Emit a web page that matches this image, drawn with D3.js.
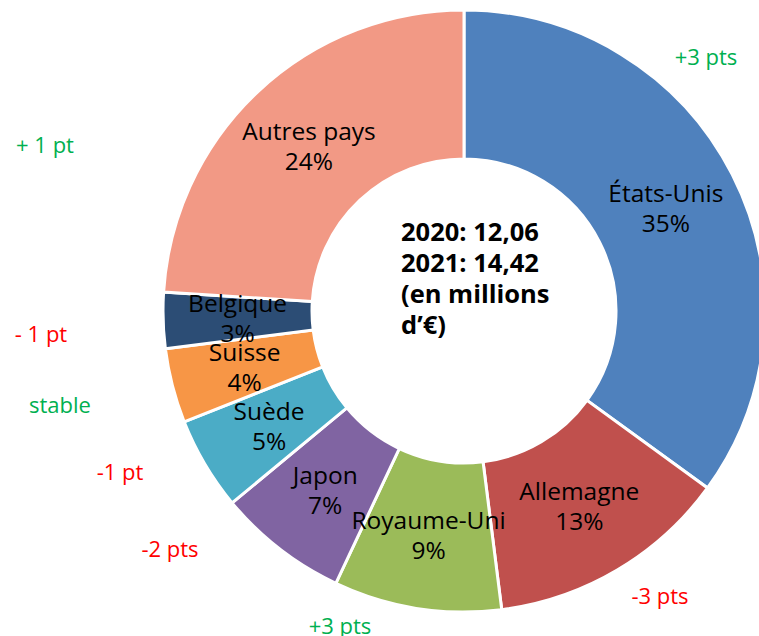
<!DOCTYPE html>
<html>
<head>
<meta charset="utf-8">
<script src="https://cdn.jsdelivr.net/npm/d3@7"></script>
<style>
  body { margin: 0; background: #fff; }
  svg { display: block; }
  .lbl { font-family: "Open Sans", sans-serif; font-size: 24.5px; fill: #000; }
  .note { font-family: "Open Sans", sans-serif; font-size: 22px; }
  .total { font-family: "Open Sans", sans-serif; font-size: 25.5px; font-weight: 700; fill: #000; }
</style>
</head>
<body>
<div id="chart"></div>
<script>
// parts des pays, sens horaire depuis midi
var countries = ["États-Unis", "Allemagne", "Royaume-Uni", "Japon", "Suède", "Suisse", "Belgique", "Autres pays"];
var shares = [35, 13, 9, 7, 5, 4, 3, 24];
var changes = ["+3 pts", "-3 pts", "+3 pts", "-2 pts", "-1 pt", "stable", "- 1 pt", "+ 1 pt"];
var totals = ["2020: 12,06", "2021: 14,42", "(en millions", "d’€)"];

var colors = ["#4f81bd", "#c0504d", "#9bbb59", "#8064a2", "#4bacc6", "#f79646", "#2c4d75", "#f29985"];

// where the change notes sit (centre of text), placed by hand like in the original
var notePos = [[706, 58], [660, 597], [340, 627], [170, 550], [120, 473], [60, 406], [41, 335], [45, 146]];

var width = 759, height = 636;
var cx = 464, cy = 311;
var outerR = 301, innerR = 152;

var svg = d3.select("#chart").append("svg")
    .attr("width", width)
    .attr("height", height);

var g = svg.append("g")
    .attr("transform", "translate(" + cx + "," + cy + ")");

var pie = d3.pie().sort(null).value(function(d) { return d; });
var arc = d3.arc().innerRadius(innerR).outerRadius(outerR);
var labelArc = d3.arc().innerRadius((innerR + outerR) / 2).outerRadius((innerR + outerR) / 2);

var arcs = pie(shares);

g.selectAll(".slice")
    .data(arcs)
  .enter().append("path")
    .attr("class", "slice")
    .attr("d", arc)
    .attr("fill", function(d, i) { return colors[i]; })
    .attr("stroke", "#fff")
    .attr("stroke-width", 3);

var lbl = g.selectAll(".lbl")
    .data(arcs)
  .enter().append("text")
    .attr("class", "lbl")
    .attr("text-anchor", "middle")
    .attr("transform", function(d) {
      var c = labelArc.centroid(d);
      return "translate(" + c[0] + "," + c[1] + ")";
    });

lbl.append("tspan")
    .attr("x", 0)
    .attr("y", -6)
    .text(function(d, i) { return countries[i]; });
lbl.append("tspan")
    .attr("x", 0)
    .attr("y", 24)
    .text(function(d) { return d.value + "%"; });

svg.selectAll(".note")
    .data(changes)
  .enter().append("text")
    .attr("class", "note")
    .attr("text-anchor", "middle")
    .attr("x", function(d, i) { return notePos[i][0]; })
    .attr("y", function(d, i) { return notePos[i][1] + 7; })
    .attr("fill", function(d) { return d.charAt(0) == "+" || d == "stable" ? "#00b050" : "#ff0000"; })
    .text(function(d) { return d; });

svg.selectAll(".total")
    .data(totals)
  .enter().append("text")
    .attr("class", "total")
    .attr("x", 401)
    .attr("y", function(d, i) { return 241 + i * 31; })
    .text(function(d) { return d; });
</script>
</body>
</html>
